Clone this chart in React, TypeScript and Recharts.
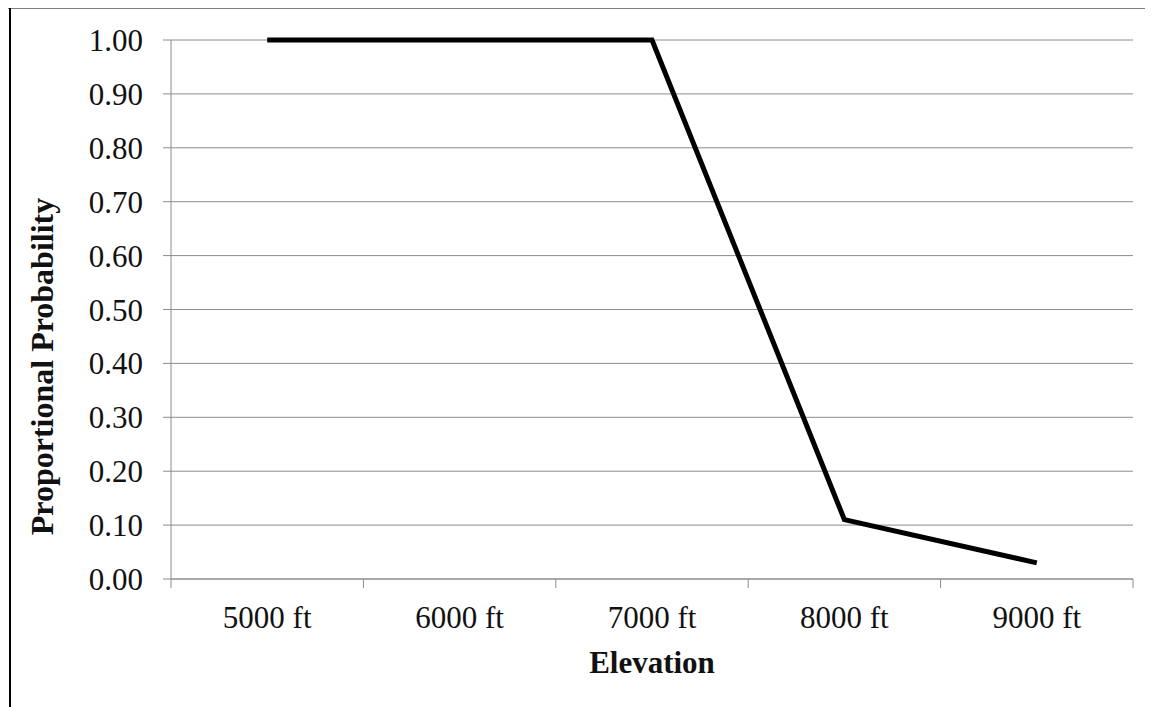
import React from "react";
import { CartesianGrid, Line, LineChart, XAxis, YAxis } from "recharts";

const categories = ["5000 ft", "6000 ft", "7000 ft", "8000 ft", "9000 ft"];
const probability = [1.0, 1.0, 1.0, 0.11, 0.03];
const yTicks = [0, 0.1, 0.2, 0.3, 0.4, 0.5, 0.6, 0.7, 0.8, 0.9, 1.0];

const data = categories.map((name, i) => ({
  name,
  pos: i + 1,
  probability: probability[i],
}));

// category centres get labels, the band edges get tick marks (Excel style)
const xTicks: number[] = [0.5];
categories.forEach((_, i) => {
  xTicks.push(i + 1, i + 1.5);
});

const FONT = '"Liberation Serif", "Times New Roman", serif';
const GRID = "#8c8c8c";

const ElevationTick = (props: any) => {
  const { x, y, payload } = props;
  const v = payload.value;
  if (Number.isInteger(v)) {
    return (
      <text x={x} y={y} dy={49} textAnchor="middle" fontFamily={FONT} fontSize={31} fill="#111">
        {categories[v - 1]}
      </text>
    );
  }
  return <line x1={x} x2={x} y1={y} y2={y + 9} stroke={GRID} strokeWidth={1} />;
};

const YLabel = (props: any) => {
  const vb = props.viewBox;
  const cx = vb.x + 45;
  // the title sits a bit below the middle of the plot in the original
  const cy = vb.y + vb.height / 2 + 57;
  return (
    <text
      x={cx}
      y={cy}
      transform={`rotate(-90 ${cx} ${cy})`}
      textAnchor="middle"
      fontFamily={FONT}
      fontSize={32}
      fontWeight="bold"
      fill="#111"
    >
      Proportional Probability
    </text>
  );
};

export default function App() {
  return (
    <div style={{ position: "relative", width: 1145, height: 699 }}>
      <LineChart width={1145} height={699} data={data} margin={{ top: 32, right: 20, bottom: 0, left: 0 }}>
        <CartesianGrid vertical={false} stroke={GRID} strokeWidth={1} />
        <XAxis
          dataKey="pos"
          type="number"
          domain={[0.5, categories.length + 0.5]}
          ticks={xTicks}
          interval={0}
          height={128}
          tickSize={0}
          tickMargin={0}
          tickLine={false}
          axisLine={{ stroke: GRID }}
          tick={<ElevationTick />}
          label={{
            value: "Elevation",
            position: "insideBottom",
            offset: 34,
            style: { fontFamily: FONT, fontSize: 31, fontWeight: "bold", fill: "#111" },
          }}
        />
        <YAxis
          domain={[0, 1]}
          ticks={yTicks}
          interval={0}
          width={163}
          tickSize={8}
          tickMargin={20}
          tickLine={{ stroke: GRID }}
          axisLine={{ stroke: GRID }}
          tickFormatter={(v: number) => v.toFixed(2)}
          tick={{ fontFamily: FONT, fontSize: 31, fill: "#111" }}
          label={{ content: <YLabel /> }}
        />
        <Line
          type="linear"
          dataKey="probability"
          stroke="#000"
          strokeWidth={5}
          dot={false}
          isAnimationActive={false}
        />
      </LineChart>
      <div style={{ position: "absolute", left: 0, top: 0, width: 1145, height: 1, background: "#808080", pointerEvents: "none" }} />
      <div style={{ position: "absolute", left: 1, top: 0, width: 2, height: 699, background: "#000", pointerEvents: "none" }} />
    </div>
  );
}
